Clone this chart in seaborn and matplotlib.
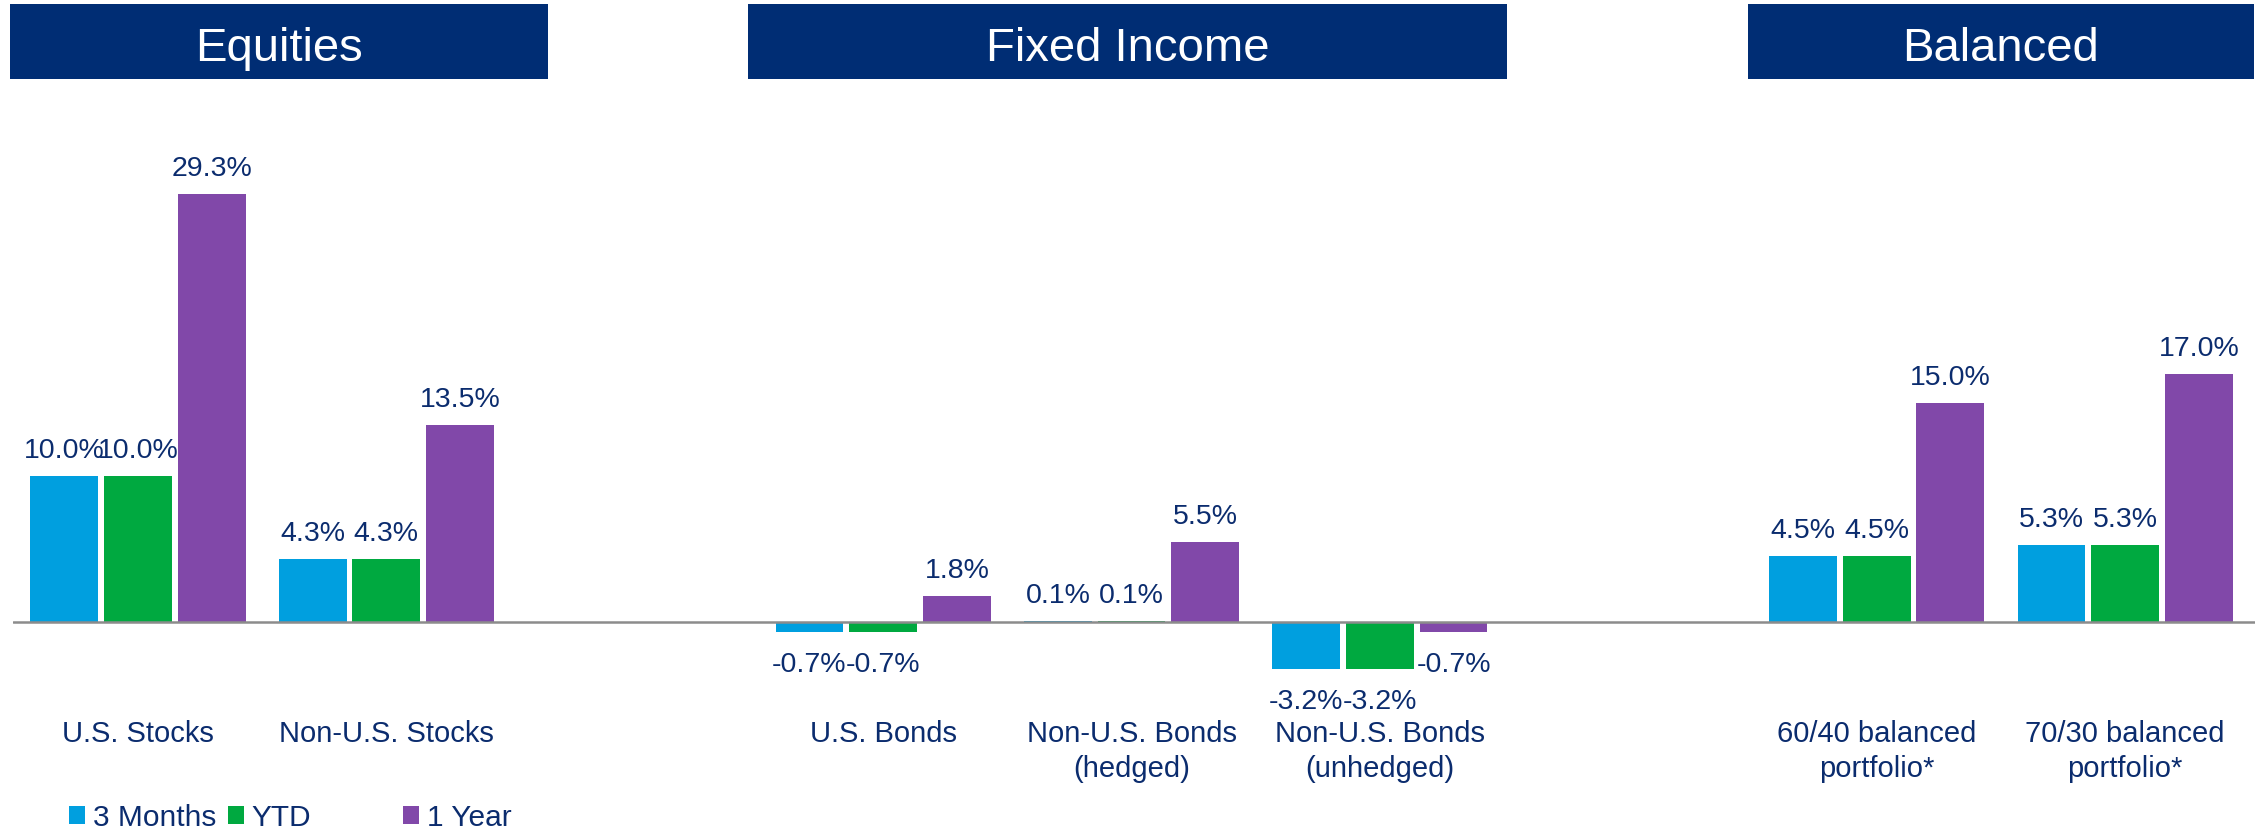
import numpy as np
import pandas as pd
import matplotlib
matplotlib.use("Agg")
import matplotlib.pyplot as plt
import matplotlib.transforms as mtransforms
from matplotlib.patches import Rectangle, Patch
import seaborn as sns

# ---- data -------------------------------------------------------------
categories = [
    "U.S. Stocks",
    "Non-U.S. Stocks",
    "U.S. Bonds",
    "Non-U.S. Bonds\n(hedged)",
    "Non-U.S. Bonds\n(unhedged)",
    "60/40 balanced\nportfolio*",
    "70/30 balanced\nportfolio*",
]
periods = ["3 Months", "YTD", "1 Year"]
three_months = [10.0, 4.3, -0.7, 0.1, -3.2, 4.5, 5.3]
ytd = [10.0, 4.3, -0.7, 0.1, -3.2, 4.5, 5.3]
one_year = [29.3, 13.5, 1.8, 5.5, -0.7, 15.0, 17.0]
section_titles = ["Equities", "Fixed Income", "Balanced"]

# ---- layout / style ---------------------------------------------------
# empty slots on the category axis separate the asset classes
slot_order = [categories[0], categories[1], "gap_a",
              categories[2], categories[3], categories[4], "gap_b",
              categories[5], categories[6]]
tick_labels = [c if not c.startswith("gap_") else "" for c in slot_order]
section_spans = [(-0.515, 1.65), (2.456, 5.51), (6.48, 8.52)]

NAVY = "#002D74"
TEXT = "#0B2C6E"
palette = {"3 Months": "#009FDF", "YTD": "#00A940", "1 Year": "#8148A9"}

sns.set_theme(style="white")
plt.rcParams["font.family"] = ["Liberation Sans", "DejaVu Sans"]

rows = []
for period, vals in zip(periods, [three_months, ytd, one_year]):
    for cat, v in zip(categories, vals):
        rows.append({"category": cat, "period": period, "value": v})
df = pd.DataFrame(rows)

W, H, DPI = 2264, 830, 100
fig = plt.figure(figsize=(W / DPI, H / DPI), dpi=DPI)
ax = fig.add_axes([13 / W, 1 - 712 / H, 2242 / W, 612 / H])

sns.barplot(
    data=df, x="category", y="value", hue="period",
    order=slot_order, hue_order=periods, palette=palette,
    width=0.89, gap=0.08, saturation=1, errorbar=None,
    linewidth=0, legend=False, ax=ax,
)

ax.set_xlim(-0.503, 8.523)
ax.set_ylim(-6.164, 35.75)
ax.set_xlabel("")
ax.set_ylabel("")
ax.set_yticks([])
ax.set_xticks(range(len(slot_order)))
ax.set_xticklabels(tick_labels, fontsize=21, color=TEXT, linespacing=1.3)
ax.tick_params(axis="x", length=0, pad=6)
for s in ax.spines.values():
    s.set_visible(False)
ax.axhline(0, color="#8C8C8C", lw=1.8, zorder=3)

# value labels: above positive bars, below negative ones
for cont in ax.containers:
    vals = cont.datavalues
    pos = [f"{v:.1f}%" if v >= 0 else "" for v in vals]
    neg = [f"{v:.1f}%" if v < 0 else "" for v in vals]
    ax.bar_label(cont, labels=pos, padding=8.5, fontsize=20.5, color=TEXT)
    ax.bar_label(cont, labels=neg, padding=14.5, fontsize=20.5, color=TEXT)

# section header boxes across the top
trans = mtransforms.blended_transform_factory(ax.transData, fig.transFigure)
for title, (x0, x1) in zip(section_titles, section_spans):
    rect = Rectangle((x0, 1 - 79 / H), x1 - x0, 75 / H, transform=trans,
                     facecolor=NAVY, edgecolor="none", clip_on=False,
                     zorder=1)
    fig.add_artist(rect)
    fig.text((x0 + x1) / 2, 1 - 61 / H, title, transform=trans,
             ha="center", va="baseline", color="white", fontsize=34,
             zorder=5)

# legend entries along the bottom edge
legend_x = [69 / W, 228 / W, 403 / W]
for period, lx in zip(periods, legend_x):
    fig.legend(handles=[Patch(facecolor=palette[period], edgecolor="none")],
               labels=[period], loc="center left",
               bbox_to_anchor=(lx, 1 - 818 / H), frameon=False,
               fontsize=21.5, labelcolor=TEXT, handlelength=0.55,
               handleheight=0.55, handletextpad=0.25, borderpad=0,
               borderaxespad=0)

fig.savefig("out.png", dpi=DPI)
